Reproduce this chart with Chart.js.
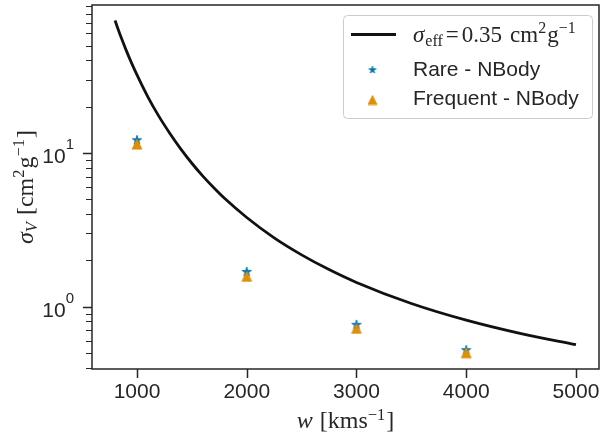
<!DOCTYPE html>
<html>
<head>
<meta charset="utf-8">
<script src="https://cdn.jsdelivr.net/npm/chart.js@4.4.0/dist/chart.umd.min.js"></script>
<style>
  html, body { margin: 0; padding: 0; background: #fff; }
  canvas { display: block; }
</style>
</head>
<body>
<canvas id="chart" width="604" height="439"></canvas>
<script>
// sigma_eff = 0.35 curve
const CURVE_W = [800, 850, 900, 950, 1000, 1100, 1200, 1300, 1400, 1500, 1600, 1700, 1800, 2000, 2250, 2500, 2750, 3000, 3500, 4000, 4500, 5000];
const CURVE_SIGMA = [72.8, 57.9, 46.9, 38.6, 32.2, 23.1, 17.3, 13.4, 10.6, 8.57, 7.07, 5.94, 5.05, 3.80, 2.80, 2.17, 1.74, 1.435, 1.046, 0.815, 0.666, 0.564];

// N-body points
const NBODY_W = [1000, 2000, 3000, 4000];
const RARE_SIGMA = [12.1, 1.68, 0.76, 0.52];
const FREQUENT_SIGMA = [11.4, 1.57, 0.72, 0.50];

const X_TICKS = [1000, 2000, 3000, 4000, 5000];
const Y_MAJOR = [1, 10];
const Y_MAJOR_EXP = ['0', '1'];
const Y_MINOR = [0.4, 0.5, 0.6, 0.7, 0.8, 0.9, 2, 3, 4, 5, 6, 7, 8, 9, 20, 30, 40, 50, 60, 70, 80, 90];
const LEGEND_LABELS = ['Rare - NBody', 'Frequent - NBody'];

const INK = '#262626';
const BLUE = '#0173b2';
const ORANGE = '#de8f05';
const SANS = '"Liberation Sans", Arial, sans-serif';
const SERIF = '"Liberation Serif", "Times New Roman", serif';

const m = (size, italic) => (italic ? 'italic ' : '') + size + 'px ' + SERIF;

function starMarker(r, color) {
  const size = Math.ceil(r * 2 + 2);
  const c = document.createElement('canvas');
  c.width = size; c.height = size;
  const g = c.getContext('2d');
  const cx = size / 2, cy = size / 2, inner = r * 0.382;
  g.beginPath();
  for (let k = 0; k < 10; k++) {
    const a = -Math.PI / 2 + k * Math.PI / 5;
    const rr = k % 2 ? inner : r;
    g.lineTo(cx + rr * Math.cos(a), cy + rr * Math.sin(a));
  }
  g.closePath();
  g.fillStyle = color; g.strokeStyle = color; g.lineWidth = 0.8;
  g.fill(); g.stroke();
  return c;
}

function triangleMarker(s, color) {
  const size = Math.ceil(s + 2);
  const c = document.createElement('canvas');
  c.width = size; c.height = size;
  const g = c.getContext('2d');
  const o = (size - s) / 2;
  g.beginPath();
  g.moveTo(size / 2, o);
  g.lineTo(o, o + s);
  g.lineTo(o + s, o + s);
  g.closePath();
  g.fillStyle = color; g.strokeStyle = color; g.lineWidth = 0.8;
  g.fill(); g.stroke();
  return c;
}

function runWidth(ctx, runs) {
  let w = 0;
  for (const r of runs) { ctx.font = r.font; w += (r.gap || 0) + ctx.measureText(r.t).width; }
  return w;
}

function drawRuns(ctx, runs, x, y) {
  for (const r of runs) {
    x += r.gap || 0;
    ctx.font = r.font;
    ctx.fillText(r.t, x, y + (r.dy || 0));
    x += ctx.measureText(r.t).width;
  }
}

const LEGEND_MATH = [
  { t: 'σ', font: m(23, true) },
  { t: 'eff', font: m(16), dy: 4, gap: 1 },
  { t: '=', font: m(23), gap: 3 },
  { t: '0.35', font: m(23), gap: 3 },
  { t: 'cm', font: m(23), gap: 8 },
  { t: '2', font: m(16), dy: -9 },
  { t: 'g', font: m(23), gap: 1 },
  { t: '−1', font: m(16), dy: -9 },
];
const Y_TITLE = [
  { t: 'σ', font: m(24, true) },
  { t: 'V', font: m(16.5, true), dy: 4 },
  { t: '[cm', font: m(24), gap: 7 },
  { t: '2', font: m(16.5), dy: -9 },
  { t: 'g', font: m(24), gap: 1 },
  { t: '−1', font: m(16.5), dy: -9 },
  { t: ']', font: m(24), gap: 1 },
];
const X_TITLE = [
  { t: 'w', font: m(24, true) },
  { t: '[kms', font: m(24), gap: 7 },
  { t: '−1', font: m(16.5), dy: -8 },
  { t: ']', font: m(24), gap: 1 },
];

const starImg = starMarker(5, BLUE);
const triImg = triangleMarker(10, ORANGE);
const starLegend = starMarker(3.8, BLUE);
const triLegend = triangleMarker(9, ORANGE);

const framePlugin = {
  id: 'frame',
  afterDraw(chart) {
    const { ctx, chartArea: a, scales: { x, y } } = chart;
    ctx.save();
    ctx.strokeStyle = INK;
    ctx.fillStyle = INK;

    // ticks
    ctx.lineWidth = 1.5;
    ctx.beginPath();
    for (const v of X_TICKS) {
      const px = Math.round(x.getPixelForValue(v)) + 0.5;
      ctx.moveTo(px, a.bottom); ctx.lineTo(px, a.bottom + 9);
    }
    for (const v of Y_MAJOR) {
      const py = Math.round(y.getPixelForValue(v)) + 0.5;
      ctx.moveTo(a.left, py); ctx.lineTo(a.left - 9, py);
    }
    ctx.stroke();
    ctx.lineWidth = 1.1;
    ctx.beginPath();
    for (const v of Y_MINOR) {
      const py = Math.round(y.getPixelForValue(v)) + 0.5;
      ctx.moveTo(a.left, py); ctx.lineTo(a.left - 6, py);
    }
    ctx.stroke();

    // frame
    ctx.lineWidth = 1.5;
    ctx.strokeRect(a.left, a.top, a.right - a.left, a.bottom - a.top);

    // y tick labels 10^n
    ctx.textAlign = 'left';
    ctx.textBaseline = 'alphabetic';
    Y_MAJOR.forEach((v, i) => {
      const py = y.getPixelForValue(v);
      ctx.font = '21px ' + SANS;
      const w10 = ctx.measureText('10').width;
      ctx.font = '15px ' + SANS;
      const wExp = ctx.measureText(Y_MAJOR_EXP[i]).width;
      const x0 = a.left - 18 - w10 - wExp;
      ctx.font = '21px ' + SANS;
      ctx.fillText('10', x0, py + 10);
      ctx.font = '15px ' + SANS;
      ctx.fillText(Y_MAJOR_EXP[i], x0 + w10, py - 3.5);
    });

    // axis titles
    const xw = runWidth(ctx, X_TITLE);
    drawRuns(ctx, X_TITLE, (a.left + a.right) / 2 - xw / 2, 428);
    ctx.save();
    ctx.translate(33, (a.top + a.bottom) / 2);
    ctx.rotate(-Math.PI / 2);
    const yw = runWidth(ctx, Y_TITLE);
    drawRuns(ctx, Y_TITLE, -yw / 2, 0);
    ctx.restore();

    // legend
    ctx.beginPath();
    ctx.roundRect(343.5, 15.5, 249, 103, 4);
    ctx.fillStyle = 'rgba(255,255,255,0.8)';
    ctx.fill();
    ctx.strokeStyle = '#cccccc';
    ctx.lineWidth = 1;
    ctx.stroke();

    ctx.strokeStyle = '#111';
    ctx.lineWidth = 2.8;
    ctx.beginPath();
    ctx.moveTo(351, 34.5); ctx.lineTo(396, 34.5);
    ctx.stroke();
    ctx.drawImage(starLegend, 372.5 - starLegend.width / 2, 70 - starLegend.height / 2);
    ctx.drawImage(triLegend, 372.5 - triLegend.width / 2, 100 - triLegend.height / 2);

    ctx.fillStyle = INK;
    drawRuns(ctx, LEGEND_MATH, 413, 42);
    ctx.font = '21px ' + SANS;
    ctx.fillText(LEGEND_LABELS[0], 413, 76);
    ctx.fillText(LEGEND_LABELS[1], 413, 105);
    ctx.restore();
  },
};

new Chart(document.getElementById('chart'), {
  type: 'scatter',
  data: {
    datasets: [
      {
        label: 'sigma_eff = 0.35',
        data: CURVE_W.map((w, i) => ({ x: w, y: CURVE_SIGMA[i] })),
        showLine: true,
        borderColor: '#111',
        borderWidth: 2.8,
        pointRadius: 0,
        cubicInterpolationMode: 'monotone',
        order: 2,
      },
      {
        label: LEGEND_LABELS[0],
        data: NBODY_W.map((w, i) => ({ x: w, y: RARE_SIGMA[i] })),
        pointStyle: starImg,
        order: 1,
      },
      {
        label: LEGEND_LABELS[1],
        data: NBODY_W.map((w, i) => ({ x: w, y: FREQUENT_SIGMA[i] })),
        pointStyle: triImg,
        order: 0,
      },
    ],
  },
  options: {
    responsive: false,
    animation: false,
    devicePixelRatio: 1,
    layout: { padding: { left: 0, right: 1, top: 4, bottom: 0 } },
    plugins: { legend: { display: false }, tooltip: { enabled: false } },
    scales: {
      x: {
        type: 'linear',
        min: 590,
        max: 5210,
        grid: { display: false, drawTicks: false },
        border: { display: false },
        afterBuildTicks: (s) => { s.ticks = X_TICKS.map((v) => ({ value: v })); },
        afterFit: (s) => { s.height = 70; s.paddingLeft = 0; s.paddingRight = 0; },
        ticks: {
          font: { family: SANS, size: 21 },
          color: INK,
          padding: 11,
          maxRotation: 0,
          autoSkip: false,
          callback: (v) => String(v),
        },
      },
      y: {
        type: 'logarithmic',
        min: 0.392,
        max: 91.9,
        grid: { display: false, drawTicks: false },
        border: { display: false },
        ticks: { display: false },
        afterFit: (s) => { s.width = 92; s.paddingTop = 0; s.paddingBottom = 0; },
      },
    },
  },
  plugins: [framePlugin],
});
</script>
</body>
</html>
